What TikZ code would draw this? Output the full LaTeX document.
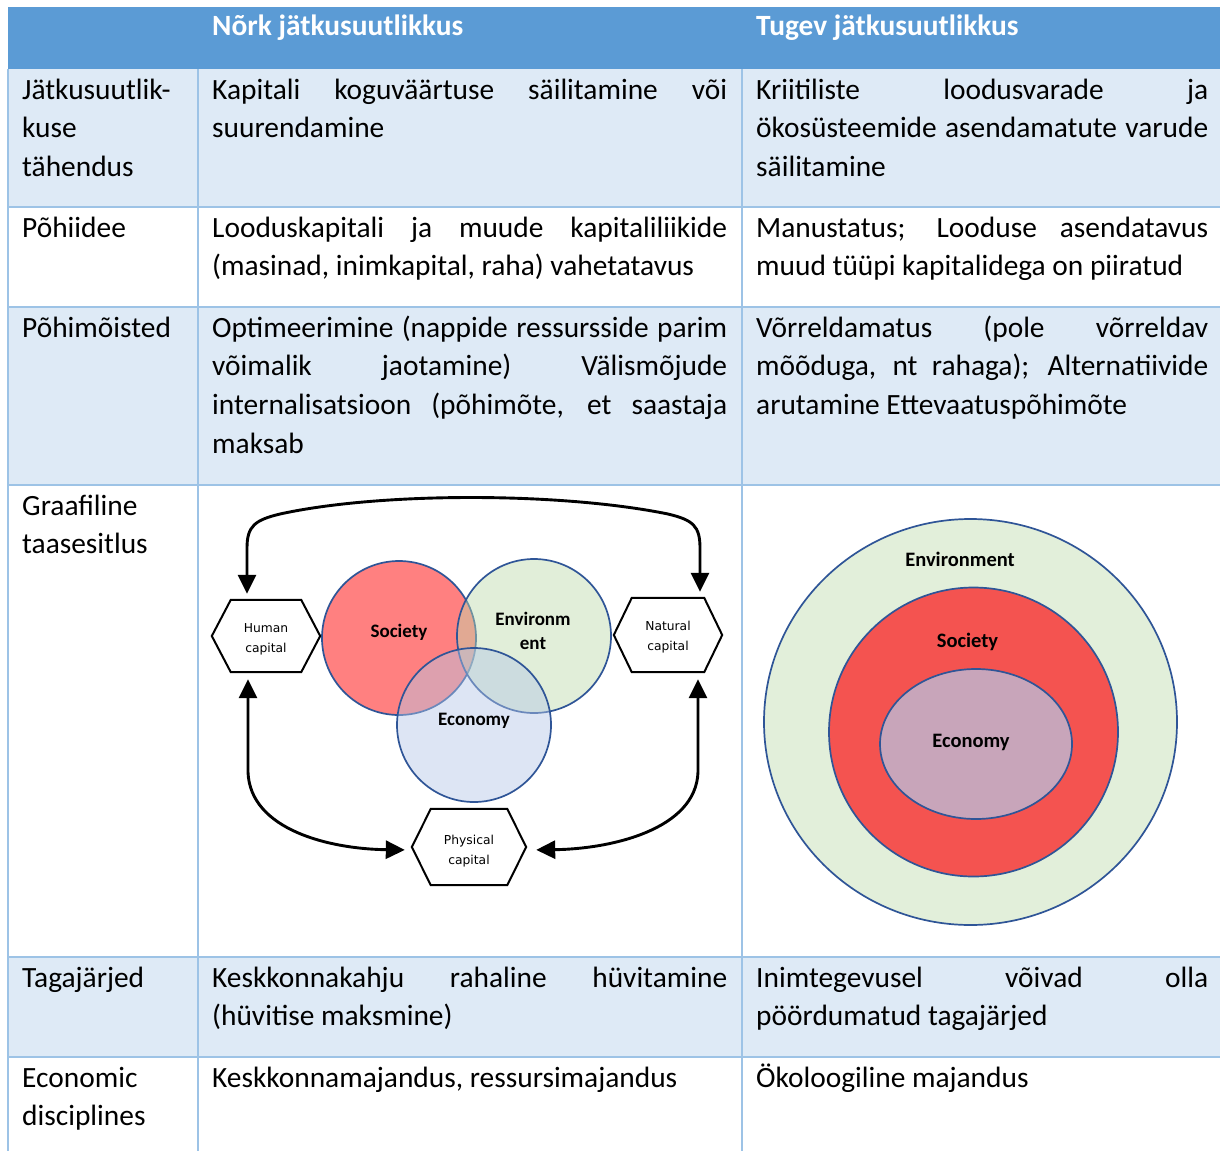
\documentclass[tikz,border=0pt]{standalone}
\usepackage{fontspec}
\setmainfont{Carlito}
\newfontfamily\djv{DejaVu Sans}
\usetikzlibrary{arrows.meta,calc,shapes.geometric}

\definecolor{hdrblue}{RGB}{91,155,213}
\definecolor{rowblue}{RGB}{222,234,246}
\definecolor{gridblue}{RGB}{157,195,230}
\definecolor{outl}{RGB}{47,85,151}
\definecolor{socL}{RGB}{255,128,128}
\definecolor{envL}{RGB}{189,219,171}
\definecolor{ecoL}{RGB}{180,199,231}
\definecolor{envR}{RGB}{226,239,218}
\definecolor{socR}{RGB}{244,83,80}
\definecolor{ecoR}{RGB}{200,165,186}

\newcommand{\cellfont}{\fontsize{29.4}{38.6}\selectfont}
\newcommand{\rs}{\spaceskip=0pt\xspaceskip=0pt\relax}
\newcommand{\jb}[1]{{\rs\makebox[515pt][s]{#1}}}
\newcommand{\jc}[1]{{\rs\makebox[452pt][s]{#1}}}

\begin{document}
\begin{tikzpicture}[x=1pt,y=-1pt,
  cell/.style={anchor=north west, inner sep=0pt, align=left, font=\cellfont, text=black},
  cellA/.style={cell, text width=172pt},
  cellB/.style={cell, text width=515pt},
  cellC/.style={cell, text width=452pt},
  hdr/.style={anchor=base west, inner sep=0pt, font=\cellfont\bfseries, text=white},
  grid/.style={draw=gridblue, line width=2pt},
  ring/.style={draw=outl, line width=1.7pt, inner sep=0pt},
  dlabL/.style={anchor=base, inner sep=0pt, font=\fontsize{19}{24}\selectfont\bfseries},
  dlabR/.style={anchor=base, inner sep=0pt, font=\fontsize{20.5}{25}\selectfont\bfseries},
  hexbox/.style={inner sep=0pt, draw=none},
  hexline/.style={draw=black, line width=2pt, fill=white, line join=miter},
  hextext/.style={inner sep=0pt, align=center, font=\djv\fontsize{12.3}{20}\selectfont},
  conn/.style={line width=2.9pt, draw=black,
    {Triangle[length=19pt,width=18pt]}-{Triangle[length=19pt,width=18pt]}}
]
\useasboundingbox (0,0) rectangle (1220,1151);
\fill[white] (0,0) rectangle (1220,1151);

% row fills
\fill[hdrblue] (8,7) rectangle (1220,69);
\fill[rowblue] (8,69) rectangle (1220,207);
\fill[rowblue] (8,307) rectangle (1220,485);
\fill[rowblue] (8,957) rectangle (1220,1057);

% grid
\foreach \yy in {207,307,485,957,1057} { \draw[grid] (8,\yy) -- (1220,\yy); }
\foreach \xx in {8,198,742} { \draw[grid] (\xx,69) -- (\xx,1151); }

% header
\node[hdr] (h2) at (212,35) {\rs Nõrk jätkusuutlikkus};
\node[hdr] (h3) at (756,35) {\rs Tugev jätkusuutlikkus};

% row 1
\node[cellA] (r1a) at (22,72) {\rs\strut Jätkusuutlik-\\kuse\\tähendus};
\node[cellB] (r1b) at (212,72) {\rs\strut\jb{Kapitali koguväärtuse säilitamine või}\\suurendamine};
\node[cellC] (r1c) at (756,72) {\rs\strut\jc{Kriitiliste loodusvarade ja}\\\jc{ökosüsteemide asendamatute varude}\\säilitamine};

% row 2
\node[cellA] (r2a) at (22,210) {\rs\strut Põhiidee};
\node[cellB] (r2b) at (212,210) {\rs\strut\jb{Looduskapitali ja muude kapitaliliikide}\\(masinad, inimkapital, raha) vahetatavus};
\node[cellC] (r2c) at (756,210) {\rs\strut\jc{Manustatus; Looduse asendatavus}\\muud tüüpi kapitalidega on piiratud};

% row 3
\node[cellA] (r3a) at (22,310) {\rs\strut Põhimõisted};
\node[cellB] (r3b) at (212,310) {\rs\strut\jb{Optimeerimine (nappide ressursside parim}\\\jb{võimalik jaotamine) Välismõjude}\\\jb{internalisatsioon (põhimõte, et saastaja}\\maksab};
\node[cellC] (r3c) at (756,310) {\rs\strut\jc{Võrreldamatus (pole võrreldav}\\\jc{mõõduga, nt rahaga); Alternatiivide}\\arutamine Ettevaatuspõhimõte};

% row 4
\node[cellA] (r4a) at (22,488) {\rs\strut Graafiline\\taasesitlus};

% row 5
\node[cellA] (r5a) at (22,960) {\rs\strut Tagajärjed};
\node[cellB] (r5b) at (212,960) {\rs\strut\jb{Keskkonnakahju rahaline hüvitamine}\\(hüvitise maksmine)};
\node[cellC] (r5c) at (756,960) {\rs\strut\jc{Inimtegevusel võivad olla}\\pöördumatud tagajärjed};

% row 6
\node[cellA] (r6a) at (22,1060) {\rs\strut Economic\\disciplines};
\node[cellB] (r6b) at (212,1060) {\rs\strut Keskkonnamajandus, ressursimajandus};
\node[cellC] (r6c) at (756,1060) {\rs\strut Ökoloogiline majandus};

% ---------- left diagram ----------
\node[ring, circle, minimum size=154pt, fill=socL] (socl) at (399,638) {};
\node[ring, circle, minimum size=154pt, fill=envL, fill opacity=0.45] (envl) at (534,636) {};
\node[ring, circle, minimum size=154pt, fill=ecoL, fill opacity=0.45] (ecol) at (474,725) {};
\node[dlabL] (socllab) at (399,637) {Society};
\node[dlabL] (envllab1) at (533,625) {Environm};
\node[dlabL] (envllab2) at (533,649) {ent};
\node[dlabL] (ecollab) at (474,725) {Economy};

% hexagons
\node[hexbox, minimum width=70pt, minimum height=72pt] (hum) at (266,636) {};
\draw[hexline] (hum.north west) -- (hum.north east) -- ($(hum.east)+(19,0)$) -- (hum.south east) -- (hum.south west) -- ($(hum.west)+(-19,0)$) -- cycle;
\node[hextext] (humt) at (266,639) {Human\\capital};

\node[hexbox, minimum width=72pt, minimum height=74pt] (nat) at (668,635) {};
\draw[hexline] (nat.north west) -- (nat.north east) -- ($(nat.east)+(18,0)$) -- (nat.south east) -- (nat.south west) -- ($(nat.west)+(-18,0)$) -- cycle;
\node[hextext] (natt) at (668,637) {Natural\\capital};

\node[hexbox, minimum width=76pt, minimum height=76pt] (phy) at (469,847) {};
\draw[hexline] (phy.north west) -- (phy.north east) -- ($(phy.east)+(19,0)$) -- (phy.south east) -- (phy.south west) -- ($(phy.west)+(-19,0)$) -- cycle;
\node[hextext] (phyt) at (469,851) {Physical\\capital};

% connectors
\draw[conn, shorten <=6pt, shorten >=6pt]
  ($(hum.north)+(-19,0)$) -- (247,548)
  .. controls (247,526) and (255,520) .. (280,514)
  .. controls (380,492) and (560,492) .. (668,514)
  .. controls (693,520) and (700,526) .. (700,548)
  -- ($(nat.north)+(32,0)$);
\draw[conn, shorten <=7pt, shorten >=7pt]
  ($(hum.south)+(-18,0)$) -- (248,772)
  .. controls (250,830) and (330,849) .. ($(phy.west)+(-19,3)$);
\draw[conn, shorten <=7pt, shorten >=10pt]
  ($(nat.south)+(30,0)$) -- (698,772)
  .. controls (696,830) and (610,849) .. ($(phy.east)+(19,3)$);

% ---------- right diagram ----------
\node[ring, ellipse, minimum width=413pt, minimum height=406pt, fill=envR] (envr) at (970.5,722) {};
\node[ring, ellipse, minimum width=289pt, minimum height=289pt, fill=socR] (socr) at (973.5,732) {};
\node[ring, ellipse, minimum width=192pt, minimum height=150pt, fill=ecoR] (ecor) at (976,744) {};
\node[dlabR] (envrlab) at (960,566) {Environment};
\node[dlabR] (socrlab) at (967.5,647) {Society};
\node[dlabR] (ecorlab) at (971,747) {Economy};
\end{tikzpicture}
\end{document}
